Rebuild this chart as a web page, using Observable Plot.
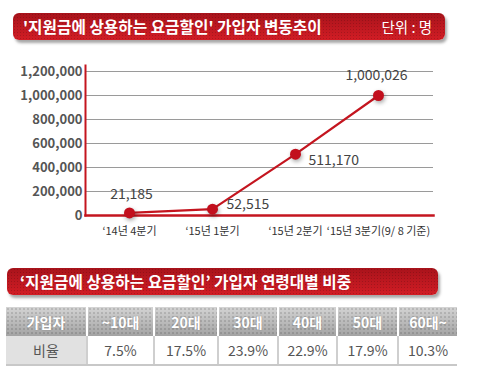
<!DOCTYPE html>
<html><head><meta charset="utf-8">
<script src="https://cdn.jsdelivr.net/npm/d3@7"></script>
<script src="https://cdn.jsdelivr.net/npm/@observablehq/plot@0.6"></script>
<style>
body{margin:0;width:477px;height:388px;background:#fff;font-family:"Noto Sans CJK KR","Noto Sans",sans-serif;position:relative;overflow:hidden}
.banner{position:absolute;height:27px;border-radius:6px;
 background:radial-gradient(circle,rgba(0,0,0,0.16) 0.7px,transparent 1px) 0 0/3px 3px,linear-gradient(#a8131b,#d21d25);
 box-shadow:2px 3px 3px rgba(0,0,0,0.35);color:#fff;font-weight:bold;font-size:15.7px;line-height:27px;box-sizing:border-box;white-space:nowrap}
.banner .unit{position:absolute;right:13px;top:0;font-weight:normal;font-size:14.5px}
#chart{position:absolute;left:0;top:50px}
#chart g[aria-label="dot"] circle{filter:drop-shadow(1px 2px 2px rgba(0,0,0,0.35))}
table{position:absolute;left:6px;top:307px;border-collapse:collapse;font-size:14px;table-layout:fixed}
th{height:29px;padding:0;color:#fff;font-weight:bold;text-shadow:0 0 2px rgba(0,0,0,0.25);border-left:2px solid #fff;
 background:radial-gradient(circle,rgba(0,0,0,0.12) 0.7px,transparent 1px) 0 0/4px 4px,linear-gradient(#d4d4d4,#a3a3a3)}
th:first-child{border-left:none}
td{height:28px;padding:0;text-align:center;color:#555;border-left:2px solid #cfcfcf;border-bottom:2px solid #c8c8c8;background:#fff}
td:first-child{border-left:none;background:#e1e1e1}
</style>
</head><body>
<div class="banner" style="left:13px;top:13px;width:432px;padding-left:10px">'지원금에 상용하는 요금할인' 가입자 변동추이<span class="unit">단위 : 명</span></div>
<div id="chart"></div>
<div class="banner" style="left:7px;top:268px;width:431px;padding-left:13px">‘지원금에 상용하는 요금할인’ 가입자 연령대별 비중</div>
<table id="tbl"></table>
<script>
const quarters = ["‘14년 4분기", "‘15년 1분기", "‘15년 2분기", "‘15년 3분기(9/ 8 기준)"];
const subscribers = [21185, 52515, 511170, 1000026];
const yTicks = [0, 200000, 400000, 600000, 800000, 1000000, 1200000];
const ageHeader = "가입자";
const rowLabel = "비율";
const ageGroups = ["~10대", "20대", "30대", "40대", "50대", "60대~"];
const ageShares = [7.5, 17.5, 23.9, 22.9, 17.9, 10.3];

const data = quarters.map((q, i) => ({q, v: subscribers[i], i}));
const red = "#c4151f";
const fmt = d3.format(",");
const label = (i, opts) => Plot.text(data, {filter: d => d.i === i, x: "q", y: "v", text: d => fmt(d.v), fontSize: 14, fill: "#444", ...opts});

const chart = Plot.plot({
  width: 477, height: 200,
  marginLeft: 85, marginRight: 44, marginTop: 15, marginBottom: 35,
  style: {fontFamily: "'Noto Sans CJK KR', 'Noto Sans', sans-serif", background: "transparent"},
  x: {type: "point", domain: quarters, range: [129, 378], padding: 0, label: null},
  y: {domain: [0, 1250000], label: null},
  marks: [
    Plot.gridY(yTicks.filter(t => t > 0), {stroke: "#9a9a9a", strokeOpacity: 1, strokeWidth: 1}),
    Plot.frame({anchor: "left", stroke: red, strokeWidth: 2}),
    Plot.frame({anchor: "bottom", stroke: red, strokeWidth: 2.5}),
    Plot.axisY({ticks: yTicks, tickSize: 0, tickPadding: 3, tickFormat: fmt, fontSize: 13, fill: "#555", fontWeight: "bold", label: null}),
    Plot.axisX({tickSize: 0, tickPadding: 12, fontSize: 11, fill: "#333", label: null}),
    Plot.line(data, {x: "q", y: "v", stroke: red, strokeWidth: 2.2}),
    Plot.dot(data, {x: "q", y: "v", r: 5.5, fill: "#c20f1d", stroke: "none"}),
    label(0, {dy: -18, dx: 2}),
    label(1, {dx: 14, dy: -5, textAnchor: "start"}),
    label(2, {dx: 13, dy: 6, textAnchor: "start"}),
    label(3, {dy: -20, dx: -2})
  ]
});
document.getElementById("chart").appendChild(chart);

const widths = [81, 67, 64, 60, 59, 61, 59];
const tbl = document.getElementById("tbl");
const cg = document.createElement("colgroup");
widths.forEach(w => { const c = document.createElement("col"); c.style.width = w + "px"; cg.appendChild(c); });
tbl.appendChild(cg);
const hr = document.createElement("tr");
[ageHeader, ...ageGroups].forEach(t => { const th = document.createElement("th"); th.textContent = t; hr.appendChild(th); });
tbl.appendChild(hr);
const dr = document.createElement("tr");
[rowLabel, ...ageShares.map(v => v.toFixed(1) + "%")].forEach(t => { const td = document.createElement("td"); td.textContent = t; dr.appendChild(td); });
tbl.appendChild(dr);
</script>
</body></html>
